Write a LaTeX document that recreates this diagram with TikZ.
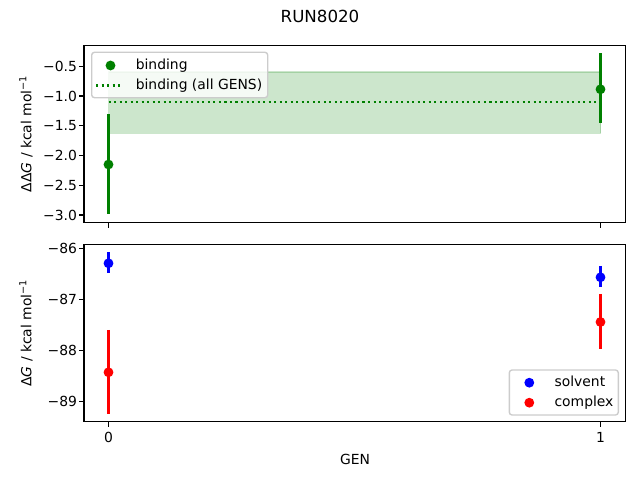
\documentclass[tikz,border=0pt]{standalone}
\usepackage{fontspec}
\setmainfont{DejaVu Sans}
\definecolor{mplgreen}{HTML}{008000}
\definecolor{mplblue}{HTML}{0000FF}
\definecolor{mplred}{HTML}{FF0000}
\definecolor{legendedge}{HTML}{CCCCCC}
\tikzset{
  axisframe/.style={draw=black, line width=0.8bp},
  tickmark/.style={draw=black, line width=0.8bp},
  txt/.style={inner sep=0pt, font=\fontsize{10bp}{12bp}\selectfont},
  ylab/.style={txt, anchor=east},
  xlab/.style={txt, anchor=north},
  dot/.style={circle, fill=#1, draw=#1, line width=1bp, minimum size=6bp, inner sep=0pt},
  errbar/.style={draw=#1, line width=1.5bp},
  legendbox/.style={draw=legendedge, line width=1bp, fill=white, fill opacity=0.8, rounded corners=2bp},
  band/.style={fill=mplgreen, fill opacity=0.2, draw=mplgreen, draw opacity=0.2, line width=1bp},
  meanline/.style={draw=mplgreen, line width=1.5bp, dash pattern=on 1.5bp off 2.475bp},
}
\begin{document}
\begin{tikzpicture}[x=0.72bp, y=-0.72bp]
\useasboundingbox (0,0) rectangle (640,480);
% title
\node[txt, font=\fontsize{12bp}{14bp}\selectfont] (title) at (320,16) {RUN8020};

% ================= top axes =================
\coordinate (tA) at (84,45.3);
\coordinate (tB) at (625.7,222.7);
% band and mean line
\fill[band] (108.5,72) rectangle (600.5,133.5);
\coordinate (m0) at (108.5,101.7);
\coordinate (m1) at (600.5,101.7);
\draw[meanline] (m0) -- (m1);
% error bars
\coordinate (b0t) at (108.5,114.5);
\coordinate (b0b) at (108.5,214.5);
\coordinate (b1t) at (600.5,53.3);
\coordinate (b1b) at (600.5,123.3);
\draw[errbar=mplgreen] (b0t) -- (b0b);
\draw[errbar=mplgreen] (b1t) -- (b1b);
\node[dot=mplgreen] (b0) at (108.5,164.5) {};
\node[dot=mplgreen] (b1) at (600.5,89.3) {};
% frame
\draw[axisframe] (tA) rectangle (tB);
% y ticks
\foreach \v/\p in {−0.5/66.3, −1.0/96.05, −1.5/125.8, −2.0/155.55, −2.5/185.3, −3.0/215.05}{
  \draw[tickmark] (84,\p) -- (79.14,\p);
  \node[ylab] at (77.2,\p) {\v};
}
% x ticks (no labels)
\draw[tickmark] (108.5,222.7) -- (108.5,227.56);
\draw[tickmark] (600.5,222.7) -- (600.5,227.56);
% y label
\node[txt, rotate=90] (ylt) at (26,133.8) {ΔΔ\textit{G} / kcal mol\textsuperscript{−1}};
% legend
\draw[legendbox] (91.7,52.3) rectangle (267.7,97.7);
\node[dot=mplgreen] (lgb) at (110.5,65.5) {};
\node[txt, anchor=base west] (lgbt) at (135.5,69.5) {binding};
\coordinate (lga) at (96,85.5);
\coordinate (lgb2) at (123.3,85.5);
\draw[meanline] (lga) -- (lgb2);
\node[txt, anchor=base west] (lgat) at (135.5,89.3) {binding (all GENS)};

% ================= bottom axes =================
\coordinate (bA) at (84,244.3);
\coordinate (bB) at (625.7,421.7);
% error bars
\coordinate (s0t) at (108.5,252.3);
\coordinate (s0b) at (108.5,272.7);
\coordinate (c0t) at (108.5,330);
\coordinate (c0b) at (108.5,413.7);
\coordinate (s1t) at (600.5,266);
\coordinate (s1b) at (600.5,287.3);
\coordinate (c1t) at (600.5,294);
\coordinate (c1b) at (600.5,349.3);
\draw[errbar=mplblue] (s0t) -- (s0b);
\draw[errbar=mplred] (c0t) -- (c0b);
\draw[errbar=mplblue] (s1t) -- (s1b);
\draw[errbar=mplred] (c1t) -- (c1b);
\node[dot=mplblue] (s0) at (108.5,263.3) {};
\node[dot=mplred] (c0) at (108.5,372.3) {};
\node[dot=mplblue] (s1) at (600.5,277.3) {};
\node[dot=mplred] (c1) at (600.5,322) {};
% frame
\draw[axisframe] (bA) rectangle (bB);
% y ticks
\foreach \v/\p in {−86/248.3, −87/299.3, −88/350.3, −89/401.3}{
  \draw[tickmark] (84,\p) -- (79.14,\p);
  \node[ylab] at (77.2,\p) {\v};
}
% x ticks with labels
\draw[tickmark] (108.5,421.7) -- (108.5,426.56);
\draw[tickmark] (600.5,421.7) -- (600.5,426.56);
\node[xlab] (x0) at (108.5,431.6) {0};
\node[xlab] (x1) at (600.5,431.6) {1};
\node[txt] (xl) at (355,459.5) {GEN};
% y label
\node[txt, rotate=90] (ylb) at (26,333) {Δ\textit{G} / kcal mol\textsuperscript{−1}};
% legend
\draw[legendbox] (509.3,370) rectangle (618.3,415);
\node[dot=mplblue] (ls) at (529.3,382.7) {};
\node[dot=mplred] (lc) at (529.3,402.7) {};
\node[txt, anchor=base west] (lst) at (554.3,386) {solvent};
\node[txt, anchor=base west] (lct) at (554.3,406) {complex};
\end{tikzpicture}
\end{document}
